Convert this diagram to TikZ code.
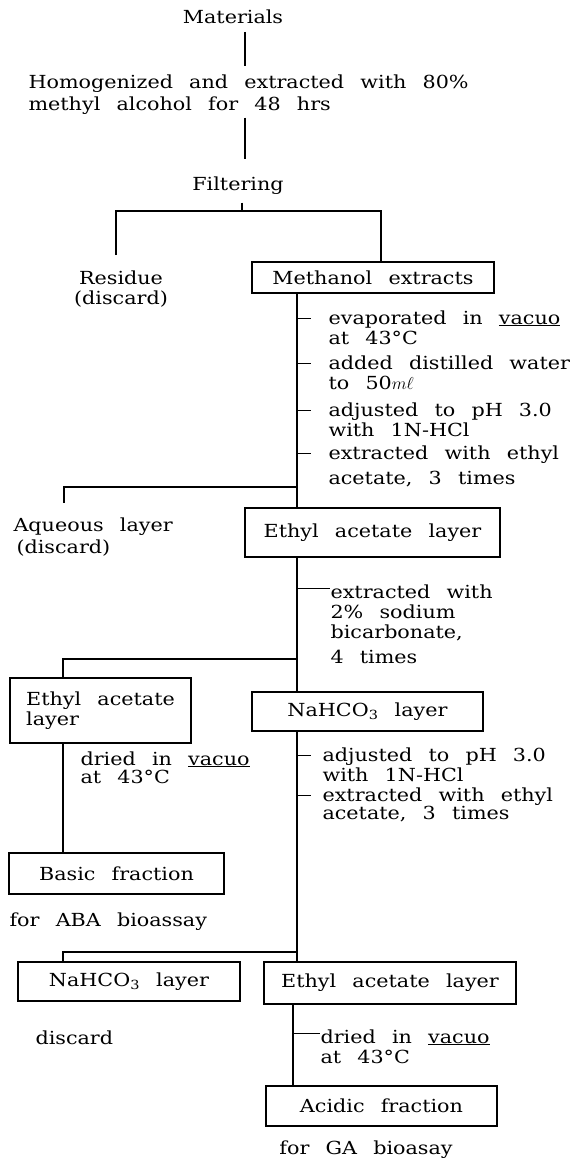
\documentclass[tikz,border=0pt]{standalone}
\usepackage{fontspec}
\setmainfont{DejaVu Serif}[FakeStretch=1.15]
\usetikzlibrary{positioning,calc}
\newcommand\flowfont{\fontsize{18}{20}\selectfont\spaceskip=0.9em\relax}
\begin{document}
\begin{tikzpicture}[x=1pt, y=-1pt, line width=1.1pt,
		font=\flowfont,
		lbl/.style={inner sep=0pt, align=left},
		stage/.style={draw, inner sep=0pt}]
	\useasboundingbox (0,0) rectangle (571,1161);

	% (base of a text block = baseline of its last line)
	\node[lbl, anchor=base] (mat) at (233,24) {Materials};
	\node[lbl, anchor=base west] (hom) at (28,111) {Homogenized and extracted with 80\%\\[2pt]methyl alcohol for 48 hrs};
	\node[lbl, anchor=base] (fil) at (238,191) {Filtering};

	\node[lbl, anchor=base, align=center] (res) at (121,304) {Residue\\(discard)};
	\node[stage, minimum width=242, minimum height=31] (mex) at (373,277.5) {Methanol extracts};

	\node[lbl, anchor=base west] (n1) at (328,344) {evaporated in \underline{vacuo}\\at 43°C};
	\node[lbl, anchor=base west] (n2) at (328,389) {added distilled water\\to 50$m\ell$};
	\node[lbl, anchor=base west] (n3) at (328,436) {adjusted to pH 3.0\\with 1N-HCl};
	\node[lbl, anchor=base west] (n4) at (328,484) {extracted with ethyl\\[5pt]acetate, 3 times};

	\node[lbl, anchor=base west] (aq) at (13,553) {Aqueous layer\\[2pt]\,(discard)};
	\node[stage, minimum width=255, minimum height=49] (ea1) at (372.5,532.5) {Ethyl acetate layer};

	\node[lbl, anchor=base west] (n5) at (330,663) {extracted with\\2\% sodium\\bicarbonate,\\[5pt]4 times};

	\node[stage, minimum width=181, minimum height=65, align=left] (ea2) at (100.5,710.5) {Ethyl acetate\\layer};
	\node[stage, minimum width=231, minimum height=39] (nah1) at (367.5,711.5) {NaHCO\textsubscript{3} layer};

	\node[lbl, anchor=base west] (n6) at (80,783) {dried in \underline{vacuo}\\[-2pt]at 43°C};
	\node[lbl, anchor=base west] (n7) at (322,781) {adjusted to pH 3.0\\with 1N-HCl};
	\node[lbl, anchor=base west] (n8) at (322,819) {extracted with ethyl\\[-2pt]acetate, 3 times};

	\node[stage, minimum width=215, minimum height=41] (bas) at (116.5,873.5) {Basic fraction};
	\node[lbl, anchor=base west] (aba) at (9,926) {for ABA bioassay};

	\node[stage, minimum width=222, minimum height=39] (nah2) at (129,981.5) {NaHCO\textsubscript{3} layer};
	\node[stage, minimum width=252, minimum height=42] (ea3) at (390,983) {Ethyl acetate layer};
	\node[lbl, anchor=base west] (dis) at (35,1044) {discard};

	\node[lbl, anchor=base west] (n9) at (320,1063) {dried in \underline{vacuo}\\at 43°C};
	\node[stage, minimum width=231, minimum height=40] (acid) at (381.5,1106) {Acidic fraction};
	\node[lbl, anchor=base] (ga) at (366,1154) {for GA bioasay};

	% trunk lines and branch points
	\coordinate (ax) at (245,0);
	\coordinate (s1) at (242,211);
	\coordinate (s1l) at (116,255);
	\coordinate (s1r) at (381,0);
	\coordinate (t1) at (297,0);
	\coordinate (t2) at (293,0);
	\coordinate (lx) at (63,0);
	\coordinate (b1) at (297,487);
	\coordinate (b1l) at (64,503);
	\coordinate (b2) at (297,659);
	\coordinate (b3) at (297,952);

	\draw[shorten <=7pt, shorten >=9pt] (mat.south -| ax) -- (hom.north -| ax);
	\draw[shorten <=2pt, shorten >=18pt] (hom.south -| ax) -- (fil.north -| ax);
	\draw[shorten <=7pt] (fil.south -| s1) -- (s1);
	\draw (s1l) |- (s1r |- s1) -- (s1r |- mex.north);

	\draw (t1 |- mex.south) -- (t1 |- ea1.north);
	\foreach \n in {n1,n2,n3,n4}
		\draw ($(t1 |- \n.north)+(0,9)$) -- ++(14,0);
	\draw (b1) -| (b1l);

	\draw (t1 |- ea1.south) -- (t1 |- nah1.north);
	\draw ($(t1 |- n5.north)+(0,5)$) -- ($(n5.north west)+(0,5)$);
	\draw (b2) -| (lx |- ea2.north);
	\draw (lx |- ea2.south) -- (lx |- bas.north);

	\draw (t1 |- nah1.south) -- (t1 |- ea3.north);
	\foreach \n in {n7,n8}
		\draw ($(t1 |- \n.north)+(0,9)$) -- ++(14,0);
	\draw (b3) -| (lx |- nah2.north);

	\draw (t2 |- ea3.south) -- (t2 |- acid.north);
	\draw ($(t2 |- n9.north)+(0,5)$) -- ($(n9.north west)+(0,5)$);
\end{tikzpicture}
\end{document}
